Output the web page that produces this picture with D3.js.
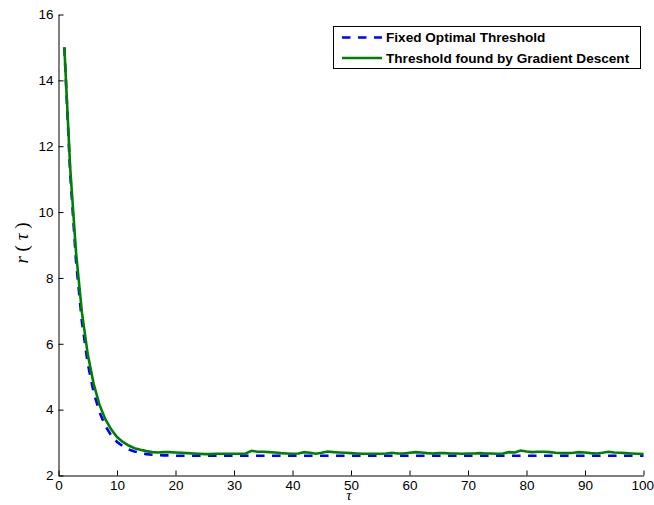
<!DOCTYPE html>
<html>
<head>
<meta charset="utf-8">
<script src="https://cdn.jsdelivr.net/npm/d3@7/dist/d3.min.js"></script>
<style>
    body { margin: 0; background: #ffffff; }
    .axis text { font-family: "Liberation Sans", Arial, sans-serif; font-size: 13.5px; fill: #000; }
    .axis path, .axis line { stroke: #000; stroke-width: 1; }
    .legend-label { font-family: "Liberation Sans", Arial, sans-serif; font-size: 13.6px; font-weight: bold; fill: #000; }
    .axis-title { font-family: "Liberation Serif", "Times New Roman", serif; fill: #000; }
</style>
</head>
<body>
<svg id="chart"></svg>
<script>

// tau values (x)
const tau = [
    1, 2, 3, 4, 5, 6, 7, 8, 9, 10, 11, 12, 13, 14, 15, 16, 17, 18, 19, 20,
    21, 22, 23, 24, 25, 26, 27, 28, 29, 30, 31, 32, 33, 34, 35, 36, 37, 38, 39, 40,
    41, 42, 43, 44, 45, 46, 47, 48, 49, 50, 51, 52, 53, 54, 55, 56, 57, 58, 59, 60,
    61, 62, 63, 64, 65, 66, 67, 68, 69, 70, 71, 72, 73, 74, 75, 76, 77, 78, 79, 80,
    81, 82, 83, 84, 85, 86, 87, 88, 89, 90, 91, 92, 93, 94, 95, 96, 97, 98, 99, 100
];

// r(tau) with the fixed optimal threshold
const fixedOptimal = [
    15.00, 11.16, 8.50, 6.67, 5.40, 4.53, 3.93, 3.51, 3.22, 3.02,
    2.89, 2.79, 2.73, 2.68, 2.65, 2.63, 2.62, 2.61, 2.61, 2.60,
    2.60, 2.60, 2.60, 2.60, 2.60, 2.60, 2.60, 2.60, 2.60, 2.60,
    2.60, 2.60, 2.60, 2.60, 2.60, 2.60, 2.60, 2.60, 2.60, 2.60,
    2.60, 2.60, 2.60, 2.60, 2.60, 2.60, 2.60, 2.60, 2.60, 2.60,
    2.60, 2.60, 2.60, 2.60, 2.60, 2.60, 2.60, 2.60, 2.60, 2.60,
    2.60, 2.60, 2.60, 2.60, 2.60, 2.60, 2.60, 2.60, 2.60, 2.60,
    2.60, 2.60, 2.60, 2.60, 2.60, 2.60, 2.60, 2.60, 2.60, 2.60,
    2.60, 2.60, 2.60, 2.60, 2.60, 2.60, 2.60, 2.60, 2.60, 2.60,
    2.60, 2.60, 2.60, 2.60, 2.60, 2.60, 2.60, 2.60, 2.60, 2.60
];

// r(tau) with the threshold found by gradient descent
const gradientDescent = [
    15.00, 11.34, 8.77, 6.96, 5.68, 4.79, 4.15, 3.71, 3.40, 3.17,
    3.02, 2.91, 2.83, 2.78, 2.74, 2.71, 2.70, 2.71, 2.71, 2.70,
    2.69, 2.68, 2.67, 2.66, 2.65, 2.65, 2.66, 2.66, 2.66, 2.66,
    2.66, 2.67, 2.75, 2.72, 2.72, 2.71, 2.70, 2.68, 2.67, 2.66,
    2.67, 2.71, 2.69, 2.66, 2.69, 2.73, 2.71, 2.70, 2.69, 2.68,
    2.67, 2.66, 2.66, 2.66, 2.66, 2.67, 2.69, 2.67, 2.67, 2.69,
    2.71, 2.70, 2.68, 2.67, 2.68, 2.68, 2.67, 2.67, 2.66, 2.67,
    2.67, 2.68, 2.67, 2.67, 2.66, 2.67, 2.71, 2.70, 2.76, 2.73,
    2.71, 2.72, 2.72, 2.71, 2.69, 2.68, 2.68, 2.69, 2.71, 2.70,
    2.68, 2.67, 2.69, 2.72, 2.70, 2.69, 2.68, 2.67, 2.66, 2.65
];

const seriesNames = ["Fixed Optimal Threshold", "Threshold found by Gradient Descent"];
const xTicks = [0, 10, 20, 30, 40, 50, 60, 70, 80, 90, 100];
const yTicks = [2, 4, 6, 8, 10, 12, 14, 16];

class LineChart {

    constructor(parentElement) {
        this.parentElement = parentElement;
        this.initVis();
    }

    initVis() {
        let vis = this;

        vis.width = 654;
        vis.height = 505;

        vis.svg = d3.select("#" + vis.parentElement)
            .attr("width", vis.width)
            .attr("height", vis.height);

        // Scales (plot box in pixels)
        vis.xScale = d3.scaleLinear()
            .domain([0, 100])
            .range([58.5, 643.5]);

        vis.yScale = d3.scaleLinear()
            .domain([2, 16])
            .range([475.5, 14.5]);

        // Axes, ticks pointing inwards like matlab
        vis.xAxis = d3.axisBottom(vis.xScale)
            .tickValues(xTicks)
            .tickSizeInner(-5)
            .tickSizeOuter(0)
            .tickPadding(5);

        vis.yAxis = d3.axisLeft(vis.yScale)
            .tickValues(yTicks)
            .tickSizeInner(-5)
            .tickSizeOuter(0)
            .tickPadding(5);

        vis.svg.append("g")
            .attr("class", "axis x-axis")
            .attr("transform", `translate(0, ${vis.yScale.range()[0]})`)
            .call(vis.xAxis);

        vis.svg.append("g")
            .attr("class", "axis y-axis")
            .attr("transform", `translate(${vis.xScale.range()[0]}, 0)`)
            .call(vis.yAxis);

        // last x label sits against the right edge of the figure
        vis.svg.select(".x-axis").selectAll(".tick text")
            .filter(d => d === 100)
            .attr("text-anchor", "end")
            .attr("x", 10);

        // Axis titles
        vis.svg.append("text")
            .attr("class", "axis-title")
            .attr("x", 349)
            .attr("y", 500)
            .attr("text-anchor", "middle")
            .style("font-size", "15px")
            .style("font-style", "italic")
            .text("τ");

        let yTitle = vis.svg.append("text")
            .attr("class", "axis-title")
            .attr("transform", "translate(28, 243) rotate(-90)")
            .attr("text-anchor", "middle")
            .style("font-size", "19px");
        yTitle.append("tspan").style("font-style", "italic").text("r");
        yTitle.append("tspan").text(" ( ");
        yTitle.append("tspan").style("font-style", "italic").text("τ");
        yTitle.append("tspan").text(" )");

        vis.wrangleData();
    }

    wrangleData() {
        let vis = this;

        vis.displayData = [
            { name: seriesNames[0], color: "#0000ff", dash: "8.5,7.5",
              values: tau.map((t, i) => ({ t: t, r: fixedOptimal[i] })) },
            { name: seriesNames[1], color: "#008000", dash: null,
              values: tau.map((t, i) => ({ t: t, r: gradientDescent[i] })) }
        ];

        vis.updateVis();
    }

    updateVis() {
        let vis = this;

        let line = d3.line()
            .x(d => vis.xScale(d.t))
            .y(d => vis.yScale(d.r));

        vis.svg.selectAll(".series-line")
            .data(vis.displayData)
            .join("path")
            .attr("class", "series-line")
            .attr("fill", "none")
            .attr("stroke", d => d.color)
            .attr("stroke-width", 2.6)
            .attr("stroke-dasharray", d => d.dash)
            .attr("d", d => line(d.values));

        // Legend
        let legend = vis.svg.append("g").attr("class", "legend");

        legend.append("rect")
            .attr("x", 333.5)
            .attr("y", 26.5)
            .attr("width", 307)
            .attr("height", 42)
            .attr("fill", "#fff")
            .attr("stroke", "#000")
            .attr("stroke-width", 1);

        let rows = legend.selectAll(".legend-row")
            .data(vis.displayData)
            .join("g")
            .attr("class", "legend-row")
            .attr("transform", (d, i) => `translate(0, ${37.5 + i * 20.5})`);

        rows.append("line")
            .attr("x1", 342)
            .attr("x2", 382)
            .attr("stroke", d => d.color)
            .attr("stroke-width", 2.6)
            .attr("stroke-dasharray", d => d.dash);

        rows.append("text")
            .attr("class", "legend-label")
            .attr("x", 386)
            .attr("dy", "0.36em")
            .text(d => d.name);
    }
}

new LineChart("chart");
</script>
</body>
</html>
